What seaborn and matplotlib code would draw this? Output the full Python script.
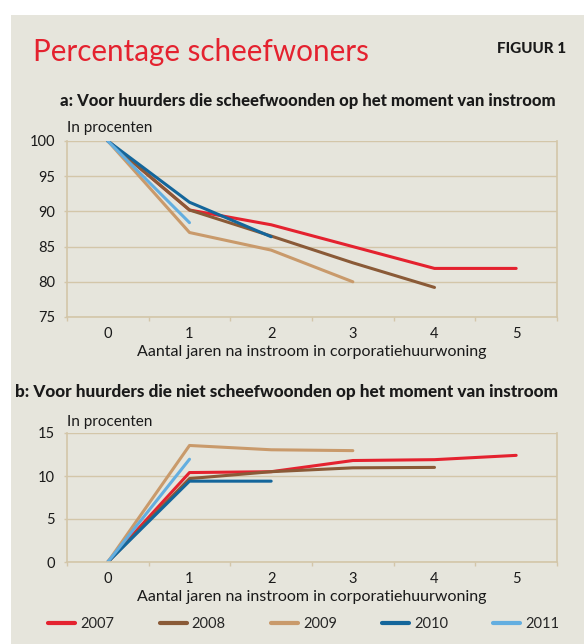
import matplotlib
matplotlib.use("Agg")
import matplotlib.pyplot as plt
import matplotlib.patches as mpatches
from matplotlib.ticker import MultipleLocator, FixedLocator
import seaborn as sns
import pandas as pd

years = ["2007", "2008", "2009", "2010", "2011"]
colors = ["#e4222f", "#8a5a37", "#c99a6b", "#14669b", "#63aee0"]

# Panel a: tenants over the income limit at inflow
a_2007 = [100, 90.2, 88.1, 85.0, 81.9, 81.9]
a_2008 = [100, 90.2, 86.5, 82.7, 79.2]
a_2009 = [100, 87.0, 84.5, 80.0]
a_2010 = [100, 91.3, 86.4]
a_2011 = [100, 88.4]

# Panel b: tenants not over the income limit at inflow
b_2007 = [0, 10.4, 10.5, 11.8, 11.9, 12.4]
b_2008 = [0, 9.7, 10.5, 10.95, 11.0]
b_2009 = [0, 13.55, 13.05, 12.95]
b_2010 = [0, 9.4, 9.4]
b_2011 = [0, 11.95]

x_ticks = [0, 1, 2, 3, 4, 5]

title = "Percentage scheefwoners"
fig_label = "FIGUUR 1"
sub_a = "a: Voor huurders die scheefwoonden op het moment van instroom"
sub_b = "b: Voor huurders die niet scheefwoonden op het moment van instroom"
unit = "In procenten"
xlabel = "Aantal jaren na instroom in corporatiehuurwoning"


def long_df(series):
    rows = []
    for yr, vals in zip(years, series):
        for i, v in enumerate(vals):
            rows.append({"jaar": i, "pct": v, "cohort": yr})
    return pd.DataFrame(rows)


df_a = long_df([a_2007, a_2008, a_2009, a_2010, a_2011])
df_b = long_df([b_2007, b_2008, b_2009, b_2010, b_2011])

sns.set_theme(style="white")
FONT = "Lato"
plt.rcParams["font.family"] = [FONT, "DejaVu Sans"]

BG = "#e6e5dc"
GRID = "#d3c6a9"
TXT = "#1a1a1a"

W, H = 584, 644
fig = plt.figure(figsize=(W / 100, H / 100), dpi=100)
fig.patch.set_facecolor("white")
fig.patches.append(mpatches.Rectangle((11 / W, 0), 1 - 11 / W, 1 - 15 / H,
                                      transform=fig.transFigure,
                                      facecolor=BG, edgecolor="none", zorder=-10))


def fy(py):
    return 1 - py / H


def fx(px):
    return px / W


palette = dict(zip(years, colors))


def make_axes(top, bottom, df, ylim, ystep):
    ax = fig.add_axes([fx(67), fy(bottom), fx(557) - fx(67), fy(top) - fy(bottom)])
    ax.set_zorder(1)
    ax.set_facecolor(BG)
    sns.lineplot(data=df, x="jaar", y="pct", hue="cohort", palette=palette,
                 linewidth=2.2, ax=ax, legend=False, estimator=None)
    ax.set_xlim(-0.5, 5.5)
    ax.set_ylim(*ylim)
    ax.yaxis.set_major_locator(MultipleLocator(ystep))
    ax.set_xticks(x_ticks)
    ax.xaxis.set_minor_locator(FixedLocator([-0.5, 0.5, 1.5, 2.5, 3.5, 4.5, 5.5]))
    ax.grid(axis="y", color=GRID, linewidth=1.0)
    ax.set_axisbelow(True)
    for s in ["left", "right", "bottom"]:
        ax.spines[s].set_visible(True)
        ax.spines[s].set_color(GRID)
        ax.spines[s].set_linewidth(1.2)
    ax.spines["top"].set_visible(False)
    ax.tick_params(axis="x", which="major", length=0, pad=7, labelsize=10.5, labelcolor=TXT)
    ax.tick_params(axis="x", which="minor", length=3, width=1, color=GRID, direction="out",
                   bottom=True)
    ax.tick_params(axis="y", which="major", length=2.5, width=1, color=GRID, pad=6,
                   labelsize=10.5, labelcolor=TXT, left=True)
    ax.set_xlabel(xlabel, fontsize=11.5, color=TXT, labelpad=3)
    ax.set_ylabel("")
    return ax


ax_a = make_axes(141, 317, df_a, (75, 100), 5)
ax_b = make_axes(433, 562, df_b, (0, 15), 5)

fig.text(fx(33), fy(61), title, fontsize=21.3, color="#e4222f",
         va="baseline", ha="left")
fig.text(fx(566), fy(53), fig_label, fontsize=11, fontweight="black", color=TXT,
         va="baseline", ha="right")
fig.text(fx(60), fy(106), sub_a, fontsize=12, fontweight="black", color=TXT,
         va="baseline", ha="left")
fig.text(fx(67), fy(132), unit, fontsize=11, color=TXT, va="baseline", ha="left")
fig.text(fx(15), fy(397), sub_b, fontsize=12.3, fontweight="black", color=TXT,
         va="baseline", ha="left")
fig.text(fx(67), fy(426), unit, fontsize=11, color=TXT, va="baseline", ha="left")

handles = [plt.Line2D([], [], color=c, linewidth=3) for c in colors]
fig.legend(handles, years, loc="center", bbox_to_anchor=(fx(304), fy(624)), ncol=5,
           frameon=False, fontsize=10.5, handlelength=1.85, handletextpad=0.35,
           columnspacing=3.1)

fig.savefig("out.png", dpi=100, facecolor=fig.get_facecolor())
